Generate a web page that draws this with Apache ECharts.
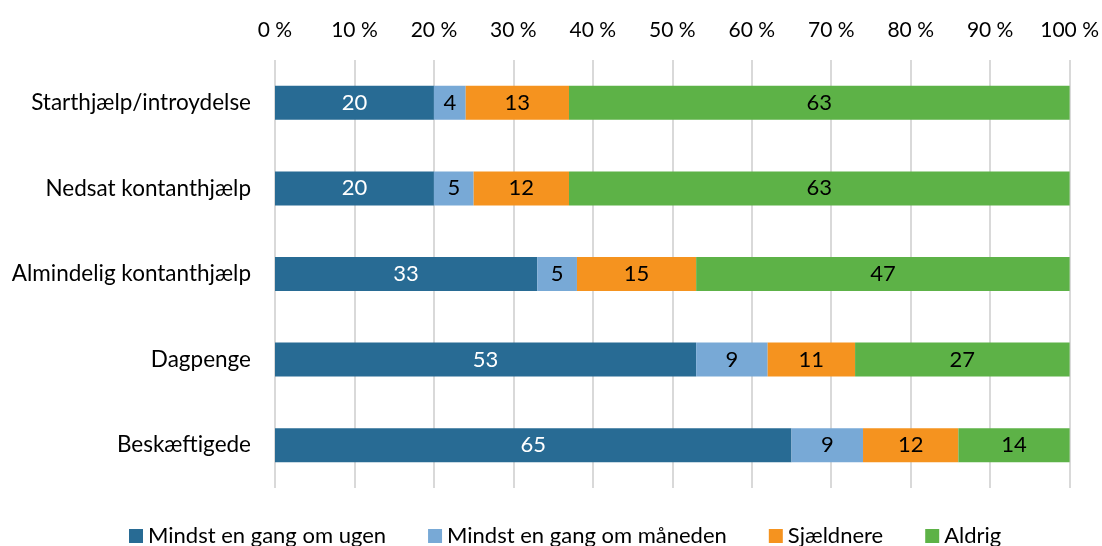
<!DOCTYPE html>
<html>
<head>
<meta charset="utf-8">
<script src="https://cdn.jsdelivr.net/npm/echarts@6/dist/echarts.min.js"></script>
<style>
  html, body { margin: 0; padding: 0; background: #fff; }
  #chart { width: 1102px; height: 546px; }
</style>
</head>
<body>
<div id="chart"></div>
<script>
// kategorier (oppefra og ned)
const categories = [
  'Starthjælp/introydelse',
  'Nedsat kontanthjælp',
  'Almindelig kontanthjælp',
  'Dagpenge',
  'Beskæftigede'
];
const seriesNames = ['Mindst en gang om ugen', 'Mindst en gang om måneden', 'Sjældnere', 'Aldrig'];
const ugen = [20, 20, 33, 53, 65];
const maaned = [4, 5, 5, 9, 9];
const sjaeldnere = [13, 12, 15, 11, 12];
const aldrig = [63, 63, 47, 27, 14];
const colors = ['#286b94', '#78a9d6', '#f5931f', '#5db247'];
const labelColors = ['#ffffff', '#000000', '#000000', '#000000'];

const font = 'Lato, "Open Sans", sans-serif';
const chart = echarts.init(document.getElementById('chart'));

const values = [ugen, maaned, sjaeldnere, aldrig];
const series = values.map((data, i) => ({
  name: seriesNames[i],
  type: 'bar',
  stack: 'total',
  barWidth: 34,
  data: data,
  itemStyle: { color: colors[i] },
  label: {
    show: true,
    position: 'inside',
    color: labelColors[i],
    fontFamily: font,
    fontSize: 22
  }
}));

chart.setOption({
  animation: false,
  grid: { left: 275, right: 32, top: 60, bottom: 58 },
  legend: {
    top: 520,
    left: 124,
    itemWidth: 14,
    itemHeight: 14,
    itemGap: 42,
    icon: 'rect',
    textStyle: { fontFamily: font, fontSize: 22, color: '#000' }
  },
  xAxis: {
    type: 'value',
    position: 'top',
    min: 0,
    max: 100,
    interval: 10,
    axisLine: { show: false },
    axisTick: { show: false },
    splitLine: { lineStyle: { color: '#d9d9d9', width: 2 } },
    axisLabel: {
      margin: 19,
      fontFamily: font,
      fontSize: 21,
      color: '#000',
      formatter: '{value} %'
    }
  },
  yAxis: {
    type: 'category',
    inverse: true,
    data: categories,
    axisLine: { show: false },
    axisTick: { show: false },
    axisLabel: {
      margin: 24,
      fontFamily: font,
      fontSize: 22.5,
      color: '#000'
    }
  },
  series: series
});
</script>
</body>
</html>
